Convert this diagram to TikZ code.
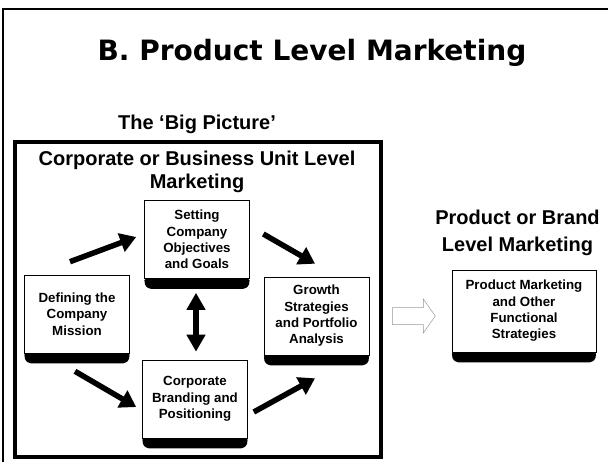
\documentclass[tikz,border=0pt]{standalone}
\usepackage{fontspec}
\setmainfont{Liberation Sans}
\newfontfamily\titlefont{DejaVu Sans}
\usetikzlibrary{arrows.meta,positioning}

\begin{document}
\begin{tikzpicture}[x=1pt, y=-1pt, every node/.style={font=\bfseries}, paper/.style={draw, line width=0.6pt, fill=white, align=center, inner sep=0pt, minimum width=105pt, minimum height=78pt, font=\fontsize{13.3}{16.3}\selectfont\bfseries}, heading/.style={align=center, font=\fontsize{20}{23}\selectfont\bfseries}, fat/.style={line width=5.5pt, -{Triangle[length=16pt, width=19pt]}}, fatboth/.style={line width=5.5pt, {Triangle[length=17pt, width=18pt]}-{Triangle[length=17pt, width=18pt]}}, hollow/.style={draw=gray!80, line width=0.5pt, fill=white}]
\useasboundingbox (0,0) rectangle (608,461);
\draw[line width=2.5pt] (615,9) -| (3,470);
\node[font=\titlefont\fontsize{28}{32}\selectfont\bfseries] (title) at (312,52.5) {B. Product Level Marketing};
\node[heading] (bigpic) at (197,124) {The ‘Big Picture’};
\draw[line width=4.5pt] (15,142) rectangle (381,457);
\node[heading] (corp) at (197,171.5) {Corporate or Business Unit Level\\Marketing};
\node[paper] (mission) at (77,314) {Defining the\\Company\\Mission};
\node[paper] (setting) at (197,239.5) {Setting\\Company\\Objectives\\and Goals};
\node[paper] (growth) at (316.5,316) {Growth\\Strategies\\and Portfolio\\Analysis};
\node[paper] (branding) at (195,399) {Corporate\\Branding and\\Positioning};
\node[heading, font=\fontsize{20}{26.5}\selectfont\bfseries] (brandlvl) at (517.5,233) {Product or Brand\\Level Marketing};
\node[paper, minimum width=144pt, minimum height=82pt] (product) at (524,311) {Product Marketing\\and Other\\Functional\\Strategies};
% black foot under each sheet
\foreach \n in {mission,setting,growth,branding,product}
  \fill[rounded corners=1.5pt] (\n.south west) -- (\n.south east) -- ([shift={(-1,7)}]\n.south east) -- ([shift={(-5,10)}]\n.south east) -- ([shift={(5,10)}]\n.south west) -- ([shift={(1,7)}]\n.south west) -- cycle;
\draw[fat] ([shift={(-7,-13)}]mission.north) -- ([shift={(-8,-2.5)}]setting.west);
\draw[fat] ([shift={(13.5,-5.5)}]setting.east) -- ([shift={(-1.5,-13)}]growth.north);
\draw[fat] ([shift={(-2,18)}]mission.south) -- ([shift={(-6,8)}]branding.west);
\draw[fat] ([shift={(6,13)}]branding.east) -- ([shift={(-1.5,23)}]growth.south);
\draw[fatboth] ([shift={(-1,14)}]setting.south) -- ([shift={(1,-8)}]branding.north);
% open arrow towards the product level
\draw[hollow] ([shift={(23,-8.5)}]growth.east) -- ++(31,0) -- ++(0,-8.5) -- ++(12,17) -- ++(-12,17) -- ++(0,-8.5) -- ++(-31,0) -- cycle;
\end{tikzpicture}
\end{document}
